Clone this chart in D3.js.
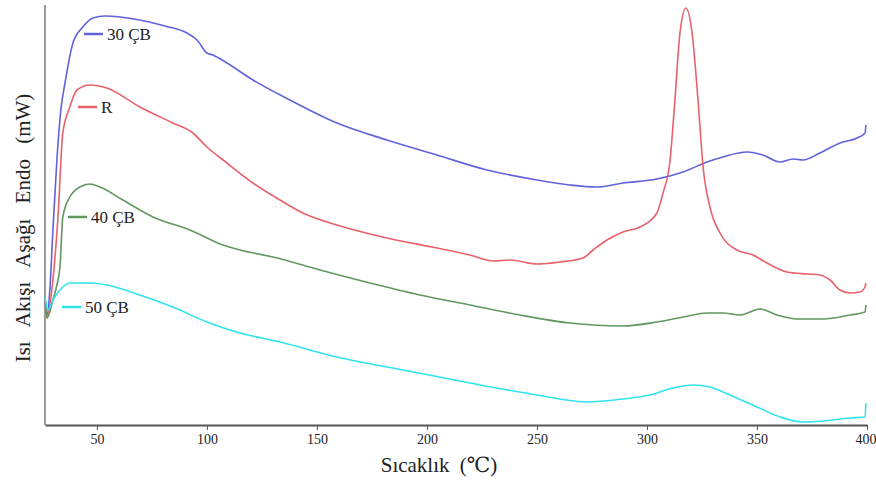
<!DOCTYPE html>
<html>
<head>
<meta charset="utf-8">
<script src="https://cdn.jsdelivr.net/npm/d3@7"></script>
<style>
  body { margin: 0; background: #fff; }
  text { font-family: "Liberation Serif", "DejaVu Serif", serif; fill: #222; }
</style>
</head>
<body>
<svg id="chart"></svg>
<script>
var w = 876;
var h = 481;

// temperatures (°C) and heat flow (arbitrary units, endo down)
var t30 = [26.4,27.3,28.6,30,31.8,33.6,35.5,39.1,43.6,48.2,53.6,60.5,69.5,80.9,90.9,95.5,100,102.7,109.1,120.9,137.7,159.1,181.8,204.5,227.3,250,265,277.3,289.1,304.5,316.4,327.3,334.5,345.5,352.7,360.5,366.4,370.9,378.6,387.7,395.5,399.1,399.5];
var v30 = [128,110,135,195,265,315,342,382,398,407,409,408,405,399,392,385,372,370,362,345,325,302,285,270,255,245,240,238,242,246,253,263,268,273,270,263,266,265,272,282,287,292,300];

var tR = [26.4,27.3,29.5,32.3,34.5,37.7,40.9,46.8,54.5,69.5,84.5,93.6,100,109.1,120.9,133.2,143.6,159.1,181.8,204.5,219.5,230,237.7,250,260.5,270.9,275.5,281.8,289.1,296.8,304.5,307.3,310.5,312.7,315,317.7,320.5,323.2,325.5,328.6,333.2,340.9,348.2,354.5,363.6,372.7,378.6,383.2,387.7,392.3,396.8,399.1,399.5];
var vR = [128,107,135,208,292,318,335,340,337,318,302,292,278,262,242,225,212,200,187,177,170,164,165,161,163,167,175,185,193,198,212,232,265,325,392,417,392,325,258,218,192,175,170,162,153,151,150,145,135,132,133,138,142];

var t40 = [26.4,27.3,30,31.8,33.2,34.5,37.7,42.3,46.8,51.4,61.8,75.5,92.3,107.3,115,130,151.4,174.1,196.8,219.5,242.3,265,289.1,304.5,316.4,327.3,334.5,342.3,351.4,359.1,368.2,380,392.3,399.1,399.5];
var v40 = [128,107,125,140,158,208,228,238,241,238,225,208,195,180,175,168,155,142,130,120,110,102,99,103,108,112,112,110,116,110,106,106,110,113,120];

var t50 = [26.4,27.7,30,33.2,37.7,46.8,54.5,69.5,84.5,100,115,133.2,159.1,189.1,219.5,250,272.7,289.1,301.4,311.8,320.9,328.6,337.7,350,360.5,370.9,380,392.3,399.1,399.5];
var v50 = [128,115,125,135,142,142,140,130,118,103,92,83,68,55,42,30,23,26,30,37,40,38,30,18,8,3,4,7,8,22];

var seriesNames = ["30 ÇB", "R", "40 ÇB", "50 ÇB"];
var xTicks = [50, 100, 150, 200, 250, 300, 350, 400];

var series = [
  {name: seriesNames[0], t: t30, v: v30, color: "#6262dc", lab: [84, 34]},
  {name: seriesNames[1], t: tR, v: vR, color: "#e8616b", lab: [78, 107]},
  {name: seriesNames[2], t: t40, v: v40, color: "#62985f", lab: [68, 217]},
  {name: seriesNames[3], t: t50, v: v50, color: "#30e3ec", lab: [62, 307]}
];

var svg = d3.select("#chart")
  .attr("width", w)
  .attr("height", h)

var x = d3.scaleLinear()
  .domain([26.4, 400])
  .range([45, 867])

var y = d3.scaleLinear()
  .domain([0, 420])
  .range([425, 5])

// axes
svg.append("line")
  .attr("x1", 45).attr("x2", 45)
  .attr("y1", 5).attr("y2", 425)
  .attr("stroke", "#7a7a7a").attr("stroke-width", 1.5)

var xAxis = svg.append("g")
  .attr("transform", "translate(0,425)")
  .call(d3.axisBottom(x).tickValues(xTicks).tickSize(5).tickSizeOuter(0))

xAxis.select(".domain").attr("stroke", "#555").attr("stroke-width", 2)
xAxis.selectAll(".tick line").attr("stroke", "#555")
xAxis.selectAll(".tick text")
  .attr("y", 9)
  .style("font-family", "Liberation Serif, serif")
  .style("font-size", "14px")
  .attr("fill", "#222")
// last label sits against the right edge
xAxis.selectAll(".tick text")
  .filter(function(d) { return d === 400; })
  .attr("text-anchor", "end")
  .attr("dx", 9)

svg.append("text")
  .attr("x", 439)
  .attr("y", 472)
  .attr("text-anchor", "middle")
  .style("font-size", "21px")
  .style("word-spacing", "5px")
  .text("Sıcaklık (℃)")

svg.append("text")
  .attr("transform", "translate(30,228) rotate(-90)")
  .attr("text-anchor", "middle")
  .style("font-size", "21px")
  .style("word-spacing", "10px")
  .text("Isı Akışı Aşağı Endo (mW)")

// curves
var line = d3.line()
  .x(function(d) { return x(d[0]); })
  .y(function(d) { return y(d[1]); })
  .curve(d3.curveMonotoneX)

series.forEach(function(s) {
  var pts = s.t.map(function(t, i) { return [t, s.v[i]]; });
  svg.append("path")
    .datum(pts)
    .attr("fill", "none")
    .attr("stroke", s.color)
    .attr("stroke-width", 1.6)
    .attr("d", line)

  svg.append("line")
    .attr("x1", s.lab[0]).attr("x2", s.lab[0] + 19)
    .attr("y1", s.lab[1]).attr("y2", s.lab[1])
    .attr("stroke", s.color).attr("stroke-width", 2.5)

  svg.append("text")
    .attr("x", s.lab[0] + 23)
    .attr("y", s.lab[1] + 6)
    .style("font-size", "17px")
    .text(s.name)
});
</script>
</body>
</html>
